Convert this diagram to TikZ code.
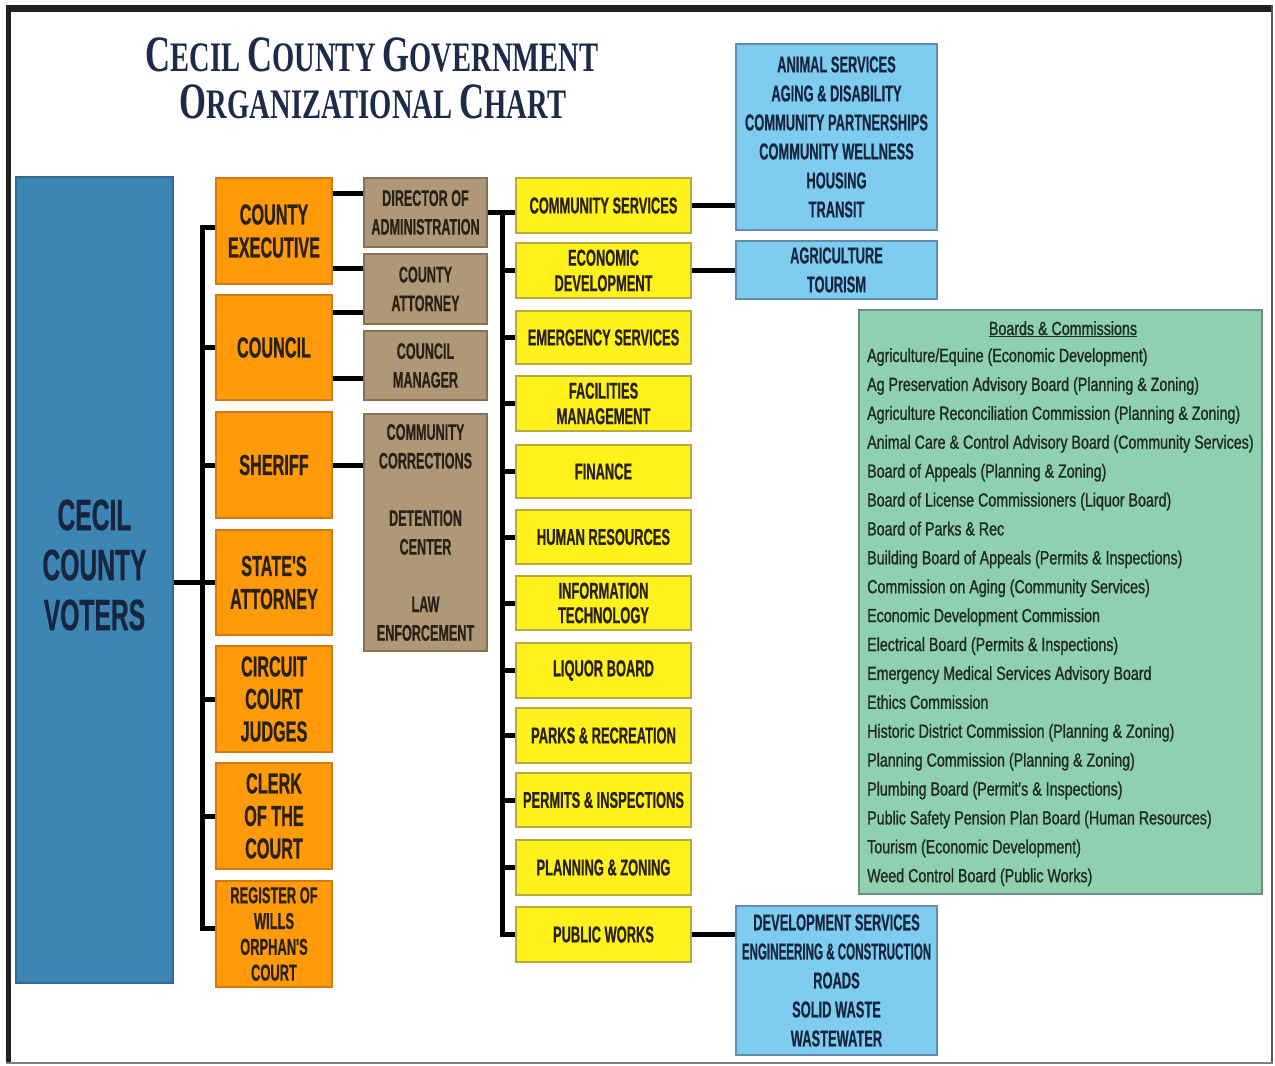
\documentclass[tikz,border=0pt]{standalone}
\usepackage{fontspec}
\setmainfont{Liberation Sans}
\newfontfamily\nb[FakeStretch=0.56,FakeBold=0.6]{Liberation Sans}
\newfontfamily\gsf[FakeStretch=0.75,FakeBold=1.0]{Liberation Sans}
\newfontfamily\tsf[FakeStretch=0.68]{Liberation Serif}
\definecolor{orangeF}{HTML}{FF9A0A}
\definecolor{orangeD}{HTML}{D07A10}
\definecolor{tanF}{HTML}{AE9877}
\definecolor{tanD}{HTML}{857258}
\definecolor{yelF}{HTML}{FFF21C}
\definecolor{yelD}{HTML}{B8AA3A}
\definecolor{bluF}{HTML}{7ECDF0}
\definecolor{bluD}{HTML}{5F8FAE}
\definecolor{grnF}{HTML}{8ED0B0}
\definecolor{grnD}{HTML}{6E8E80}
\definecolor{votF}{HTML}{3D86B4}
\definecolor{votD}{HTML}{2F6C93}
\definecolor{titleC}{HTML}{1C2B4A}
\definecolor{txtD}{HTML}{2A2115}
\definecolor{grnT}{HTML}{1F2A22}
\definecolor{navyT}{HTML}{17263E}
\definecolor{frameC}{HTML}{231F20}
\newcommand{\tbig}[1]{{\fontsize{51}{51}\selectfont #1}}
\tikzset{
  box/.style={draw, line width=1.2pt, inner sep=0pt, align=center, text=txtD},
  obox/.style={box, fill=orangeF, draw=orangeD, minimum width=116pt, minimum height=106pt,
    font={\nb\bfseries\fontsize{29}{33}\selectfont}},
  tbox/.style={box, fill=tanF, draw=tanD, minimum width=123pt, minimum height=69pt,
    font={\nb\bfseries\fontsize{22.5}{28.7}\selectfont}},
  ybox/.style={box, fill=yelF, draw=yelD, minimum width=175pt, minimum height=55pt,
    font={\nb\bfseries\fontsize{23}{25.5}\selectfont}},
  bbox/.style={box, fill=bluF, draw=bluD, minimum width=201pt,
    font={\nb\bfseries\fontsize{23}{29}\selectfont}, text=navyT},
  conn/.style={line width=5pt, black, line join=miter},
  gitem/.style={anchor=base west, inner sep=0pt, text=grnT, font={\gsf\fontsize{19}{19}\selectfont}},
}
\begin{document}
\begin{tikzpicture}[x=1pt,y=-1pt]
\useasboundingbox (0,0) rectangle (1275,1066);
\fill[white] (0,0) rectangle (1275,1066);
% frame
\fill[frameC] (6,5) rectangle (1273,12);
\fill[frameC] (6,5) rectangle (11,1064);
\fill[black!65] (1271,5) rectangle (1273,1064);
\fill[black!50] (6,1062) rectangle (1273,1064);

% title
\node[anchor=base, inner sep=0pt, text=titleC, font={\tsf\bfseries\fontsize{42}{42}\selectfont}] (t1) at (372,71)
  {\tbig{C}ECIL \tbig{C}OUNTY \tbig{G}OVERNMENT};
\node[anchor=base, inner sep=0pt, text=titleC, font={\tsf\bfseries\fontsize{42}{42}\selectfont}] (t2) at (373,118)
  {\tbig{O}RGANIZATIONAL \tbig{C}HART};

% voters
\node[box, fill=votF, draw=votD, minimum width=157pt, minimum height=806pt] (voters) at (94.5,580) {};
\node[inner sep=0pt, align=center, text=navyT, font={\nb\bfseries\fontsize{44}{50}\selectfont}] (votxt) at (94.5,565) {CECIL\\COUNTY\\VOTERS};

% orange
\node[obox] (ce) at (274,231) {COUNTY\\EXECUTIVE};
\node[obox, minimum height=105pt] (co) at (274,347.5) {COUNCIL};
\node[obox] (sh) at (274,465) {SHERIFF};
\node[obox, minimum height=105pt] (sa) at (274,582.5) {STATE'S\\ATTORNEY};
\node[obox, font={\nb\bfseries\fontsize{29}{32.5}\selectfont}] (cc) at (274,699) {CIRCUIT\\COURT\\JUDGES};
\node[obox, font={\nb\bfseries\fontsize{29}{32.5}\selectfont}] (ck) at (274,816) {CLERK\\OF THE\\COURT};
\node[obox, font={\nb\bfseries\fontsize{23}{25.8}\selectfont}] (rw) at (274,934) {REGISTER OF\\WILLS\\ORPHAN'S\\COURT};

% tan
\node[tbox] (dir) at (425.5,212.5) {DIRECTOR OF\\ADMINISTRATION};
\node[tbox, minimum height=70pt] (ca) at (425.5,289) {COUNTY\\ATTORNEY};
\node[tbox] (cm) at (425.5,365.5) {COUNCIL\\MANAGER};
\node[tbox, minimum height=237pt] (corr) at (425.5,532.5) {COMMUNITY\\CORRECTIONS\\[28.7pt]DETENTION\\CENTER\\[28.7pt]LAW\\ENFORCEMENT};

% yellow
\node[ybox] (cs) at (603.5,205.5) {COMMUNITY SERVICES};
\node[ybox] (ed) at (603.5,270.5) {ECONOMIC\\DEVELOPMENT};
\node[ybox, minimum height=53pt] (es) at (603.5,337.5) {EMERGENCY SERVICES};
\node[ybox] (fm) at (603.5,403.5) {FACILITIES\\MANAGEMENT};
\node[ybox, minimum height=53pt] (fi) at (603.5,471.5) {FINANCE};
\node[ybox, minimum height=54pt] (hr) at (603.5,537) {HUMAN RESOURCES};
\node[ybox, minimum height=54pt, font={\nb\bfseries\fontsize{23}{24.5}\selectfont}] (it) at (603.5,603) {INFORMATION\\TECHNOLOGY};
\node[ybox] (lq) at (603.5,670.5) {LIQUOR BOARD};
\node[ybox] (pr) at (603.5,735.5) {PARKS \& RECREATION};
\node[ybox, minimum height=54pt] (pi) at (603.5,800) {PERMITS \& INSPECTIONS};
\node[ybox] (pz) at (603.5,867.5) {PLANNING \& ZONING};
\node[ybox] (pw) at (603.5,934.5) {PUBLIC WORKS};

% blue
\node[bbox, minimum height=186pt] (b1) at (836.5,137) {ANIMAL SERVICES\\AGING \& DISABILITY\\COMMUNITY PARTNERSHIPS\\COMMUNITY WELLNESS\\HOUSING\\TRANSIT};
\node[bbox, minimum height=58pt] (b2) at (836.5,270) {AGRICULTURE\\TOURISM};
\node[bbox, minimum height=149pt] (b3) at (836.5,980.5) {DEVELOPMENT SERVICES\\\scalebox{0.9}[1]{ENGINEERING \& CONSTRUCTION}\\ROADS\\SOLID WASTE\\WASTEWATER};

% green
\node[box, fill=grnF, draw=grnD, minimum width=403pt, minimum height=584pt] (grn) at (1060.5,602) {};
\node[anchor=base, inner sep=0pt, text=grnT, font={\gsf\fontsize{19}{19}\selectfont}] (gtitle) at (1063,335) {\underline{Boards \& Commissions}};
\foreach \t [count=\i from 0] in {
  Agriculture/Equine (Economic Development),
  Ag Preservation Advisory Board (Planning \& Zoning),
  Agriculture Reconciliation Commission (Planning \& Zoning),
  Animal Care \& Control Advisory Board (Community Services),
  Board of Appeals (Planning \& Zoning),
  Board of License Commissioners (Liquor Board),
  Board of Parks \& Rec,
  Building Board of Appeals (Permits \& Inspections),
  Commission on Aging (Community Services),
  Economic Development Commission,
  Electrical Board (Permits \& Inspections),
  Emergency Medical Services Advisory Board,
  Ethics Commission,
  Historic District Commission (Planning \& Zoning),
  Planning Commission (Planning \& Zoning),
  Plumbing Board (Permit's \& Inspections),
  Public Safety Pension Plan Board (Human Resources),
  Tourism (Economic Development),
  Weed Control Board (Public Works)}
  \node[gitem] (g\i) at (867,{362+28.9*\i}) {\t};

% connectors: voters and left bus
\coordinate (lbus) at (202,0);
\coordinate (ceT) at ([yshift=4pt]ce.west);
\coordinate (rwT) at ([yshift=6pt]rw.west);
\draw[conn] (ceT) -| (lbus |- rwT) -- (rwT);
\foreach \n in {co,sh,sa,cc,ck} \draw[conn] (\n.west) -- (\n.west -| lbus);
\draw[conn] (voters.east |- sa.west) -- (sa.west -| lbus);

% orange to tan
\draw[conn] ([yshift=38pt]ce.east) -- ([yshift=38pt]ce.east -| dir.west);
\draw[conn] ([yshift=-37pt]ce.east) -- ([yshift=-37pt]ce.east -| ca.west);
\draw[conn] ([yshift=35.5pt]co.east) -- ([yshift=35.5pt]co.east -| ca.west);
\draw[conn] ([yshift=-30.5pt]co.east) -- ([yshift=-30.5pt]co.east -| cm.west);
\draw[conn] (sh.east) -- (sh.east -| corr.west);

% director to yellow
\coordinate (ybus) at (502,0);
\draw[conn] (dir.east) -- (dir.east -| cs.west);
\draw[conn] ([yshift=2.5pt]dir.east -| ybus) -- (pw.west -| ybus) -- (pw.west);
\foreach \n in {ed,es,fm,fi,hr,it,lq,pr,pi,pz} \draw[conn] (\n.west -| ybus) -- (\n.west);

% yellow to blue
\draw[conn] (cs.east) -- (cs.east -| b1.west);
\draw[conn] (ed.east) -- (ed.east -| b2.west);
\draw[conn] (pw.east) -- (pw.east -| b3.west);
\end{tikzpicture}
\end{document}
